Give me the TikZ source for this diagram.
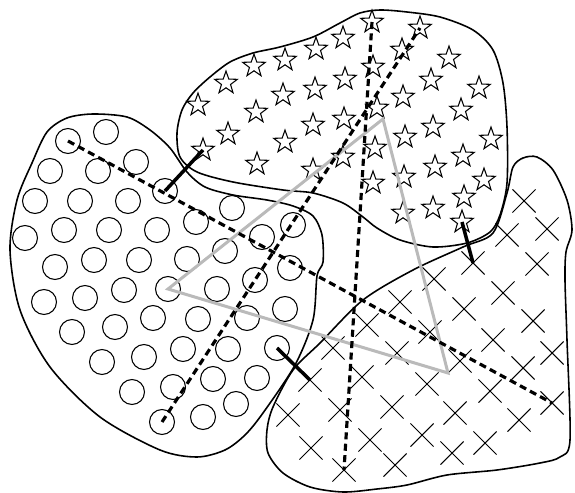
\documentclass[tikz,border=0pt]{standalone}
\usetikzlibrary{shapes.geometric,shapes.misc}

\begin{document}
\begin{tikzpicture}[
  x=0.02cm, y=-0.02cm,
  blob/.style={line width=0.9pt, black},
  ring/.style={circle, draw, line width=0.6pt, inner sep=0pt, minimum size=14.2pt},
  spike/.style={star, star points=5, star point ratio=2.5, draw, line width=0.6pt, inner sep=0pt, minimum size=13.6pt},
  tick/.style={cross out, draw, line width=0.6pt, inner sep=0pt, minimum size=12.5pt},
  link/.style={line width=2pt, black},
  chain/.style={line width=1.8pt, dash pattern=on 4pt off 2.5pt},
  tri/.style={line width=1.7pt, black!27, line join=miter},
]
\useasboundingbox (0,0) rectangle (575,493);

% ====== Three regions ======
\draw[blob] plot[smooth cycle] coordinates {
  (93,114) (127,117) (150,130) (170,148) (187,172) (205,187) (233,195)
  (267,200) (293,206) (313,216) (322,235) (323,262) (317,276) (313,320)
  (295,365) (263,413) (245,435) (225,450) (197,457) (160,450) (100,417)
  (50,367) (20,310) (10,250) (17,200) (32,163) (47,132) (67,118)};
\draw[blob] plot[smooth cycle] coordinates {
  (380,10) (407,12) (440,17) (473,30) (493,50) (503,83) (507,127)
  (507,183) (500,215) (490,232) (467,243) (433,247) (400,240) (377,228)
  (363,217) (343,203) (313,193) (283,190) (233,182) (197,172) (180,157)
  (177,133) (182,110) (193,93) (210,77) (230,62) (253,53) (280,47)
  (313,37) (340,23) (360,13)};
\draw[blob] plot[smooth cycle] coordinates {
  (537,157) (553,170) (567,200) (572,230) (566,252) (565,280) (567,340)
  (570,440) (560,457) (540,463) (497,470) (447,475) (407,485) (377,489)
  (343,492) (310,487) (283,473) (268,453) (267,430) (273,407) (293,370)
  (320,343) (363,300) (413,270) (463,247) (493,233) (507,193) (513,167)
  (523,158)};

% ====== Circles ======
\foreach \x/\y [count=\i] in {106/132,50/171,98/171,136/162,35/201,80/201,128/201,
    196/222,232/208,25/238,64/230,109/230,157/230,225/251,262/237,293/225,
    55/267,94/260,139/260,187/259,255/280,290/268,44/302,85/298,124/290,
    217/289,285/309,72/332,115/327,153/318,198/319,247/318,102/362,144/357,
    183/349,228/349,132/392,173/387,213/379,257/378,203/417,236/404}
  \node[ring] (c\i) at (\x,\y) {};
\node[ring] (c-top) at (68,141) {};
\node[ring] (c-link) at (165,191) {};
\node[ring] (c-tri) at (168,289) {};
\node[ring] (c-edge) at (277,348) {};
\node[ring] (c-low) at (162,422) {};

% ====== Stars ======
\foreach \x/\y [count=\i] in {343/38,316/49,285/60,254/66,226/83,198/105,402/50,
    449/58,373/67,345/79,315/89,283/95,256/112,431/80,479/88,403/97,461/110,
    377/108,344/119,313/125,228/134,285/142,433/127,405/137,491/139,375/148,
    343/157,257/164,313/170,463/156,435/167,404/177,484/180,373/183,464/197,
    433/208,403/213}
  \node[spike] (s\i) at (\x,\y) {};
\node[spike] (s-link) at (203,150) {};
\node[spike] (s-far) at (420,28) {};
\node[spike] (s-top) at (372,22) {};
\node[spike] (s-edge) at (462,222) {};

% ====== Crosses ======
\foreach \x/\y [count=\i] in {524/201,507/235,547/229,537/264,434/279,503/293,
    400/302,464/309,533/321,367/325,430/332,493/340,552/353,333/348,397/353,
    460/361,523/368,362/377,427/384,490/391,288/415,340/410,392/407,455/413,
    519/420,311/448,370/440,422/435,452/453,485/443,395/465}
  \node[tick] (x\i) at (\x,\y) {};
\node[tick] (x-far) at (552,403) {};
\node[tick] (x-low) at (344,470) {};
\node[tick] (x-link) at (473,263) {};
\node[tick] (x-edge) at (310,380) {};

% ====== Triangle ======
\coordinate (apex) at (383,119);
\coordinate (corner) at (448,373);
\draw[tri] (c-tri.center) -- (apex) -- (corner) -- cycle;

% ====== Dashed chords ======
\draw[chain] (c-top.center) -- (x-far.center);
\draw[chain] (c-low.center) -- (s-far.center);
\draw[chain] (s-top.center) -- (x-low.center);

% ====== Links between regions ======
\draw[link] (c-link.center) -- (s-link.center);
\draw[link] (s-edge.center) -- (x-link.center);
\draw[link] (c-edge.center) -- (x-edge.center);

\end{tikzpicture}
\end{document}
